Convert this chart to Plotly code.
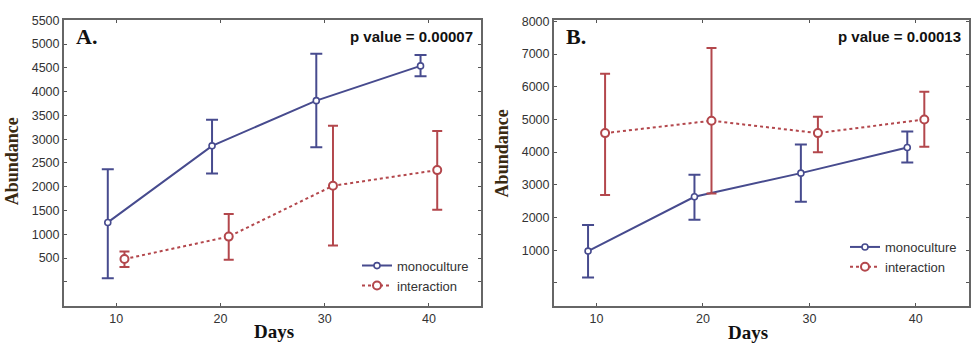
import plotly.graph_objects as go

# ---- data ----
days = [10, 20, 30, 40]

a_mono = [1250, 2860, 3810, 4540]
a_mono_hi = [2370, 3410, 4795, 4768]
a_mono_lo = [75, 2280, 2830, 4322]
a_int = [480, 952, 2020, 2350]
a_int_hi = [637, 1425, 3282, 3171]
a_int_lo = [315, 467, 767, 1515]

b_mono = [970, 2634, 3356, 4139]
b_mono_hi = [1770, 3305, 4229, 4629]
b_mono_lo = [166, 1933, 2484, 3678]
b_int = [4581, 4960, 4581, 5000]
b_int_hi = [6396, 7188, 5080, 5845]
b_int_lo = [2685, 2734, 3997, 4160]

a_yticks = [0, 500, 1000, 1500, 2000, 2500, 3000, 3500, 4000, 4500, 5000, 5500]
a_ytext = ["", "500", "1000", "1500", "2000", "2500", "3000", "3500", "4000", "4500", "5000", "5500"]
b_yticks = [0, 1000, 2000, 3000, 4000, 5000, 6000, 7000, 8000]
b_ytext = ["", "1000", "2000", "3000", "4000", "5000", "6000", "7000", "8000"]
x_ticks = [10, 20, 30, 40]

series_names = ["monoculture", "interaction"]
p_texts = ["p value = 0.00007", "p value = 0.00013"]
panel_labels = ["A.", "B."]
x_title = "Days"
y_title = "Abundance"

# ---- styles ----
BLUE = "#474b8e"
RED = "#b3474c"
DODGE = 0.8

fig = go.Figure()


def add_series(xa, ya, vals, hi, lo, color, name, dash, msize, capw, off, legend, lw):
    fig.add_trace(go.Scatter(
        x=[d + off for d in days], y=vals, name=name, mode="lines+markers",
        xaxis=xa, yaxis=ya, legend=legend,
        line=dict(color=color, width=lw, dash=dash),
        marker=dict(symbol="circle", size=msize, color="white",
                    line=dict(color=color, width=1.6 if name == "monoculture" else 2)),
        error_y=dict(type="data", symmetric=False,
                     array=[h - v for h, v in zip(hi, vals)],
                     arrayminus=[v - l for v, l in zip(vals, lo)],
                     color=color, thickness=2, width=capw),
    ))


add_series("x", "y", a_mono, a_mono_hi, a_mono_lo, BLUE, series_names[0], "solid", 6, 6, -DODGE, "legend", 2)
add_series("x", "y", a_int, a_int_hi, a_int_lo, RED, series_names[1], "dot", 8, 5, DODGE, "legend", 2)
add_series("x2", "y2", b_mono, b_mono_hi, b_mono_lo, BLUE, series_names[0], "solid", 6, 6, -DODGE, "legend2", 2)
add_series("x2", "y2", b_int, b_int_hi, b_int_lo, RED, series_names[1], "dot", 8, 5, DODGE, "legend2", 2)

W, H = 974, 344
axis_common = dict(showline=True, linecolor="#666666", linewidth=2, mirror="ticks",
                   ticks="inside", ticklen=3, tickcolor="#555555", showgrid=False,
                   zeroline=False,
                   tickfont=dict(family="Liberation Sans, Arial", size=12.5, color="#333333"))
title_font_y = dict(family="Liberation Serif, Times New Roman", size=18, color="#3a2a12")
title_font_x = dict(family="Liberation Serif, Times New Roman", size=19, color="#111111")

fig.update_layout(
    width=W, height=H, margin=dict(l=0, r=0, t=0, b=0),
    paper_bgcolor="white", plot_bgcolor="white",
    xaxis=dict(domain=[64 / W, 481 / W], range=[5, 45], tickvals=x_ticks, anchor="y", **axis_common),
    yaxis=dict(domain=[1 - 305 / H, 1 - 14 / H], range=[-500, 5510], tickvals=a_yticks,
               ticktext=a_ytext, anchor="x", **axis_common),
    xaxis2=dict(domain=[554 / W, 969 / W], range=[6, 45], tickvals=x_ticks, anchor="y2", **axis_common),
    yaxis2=dict(domain=[1 - 305 / H, 1 - 14 / H], range=[-700, 8050], tickvals=b_yticks,
                ticktext=b_ytext, anchor="x2", **axis_common),
    legend=dict(x=357 / W, y=1 - 249 / H, xanchor="left", yanchor="top",
                bgcolor="rgba(0,0,0,0)", tracegroupgap=0, itemwidth=30,
                font=dict(family="Liberation Sans, Arial", size=13, color="#333333")),
    legend2=dict(x=845 / W, y=1 - 230 / H, xanchor="left", yanchor="top",
                 bgcolor="rgba(0,0,0,0)", tracegroupgap=0, itemwidth=30,
                 font=dict(family="Liberation Sans, Arial", size=13, color="#333333")),
    showlegend=True,
)

# axis titles (placed in paper pixels)
for xt, yt in [(274, 331), (748, 332)]:
    fig.add_annotation(text="<b>" + x_title + "</b>", xref="paper", yref="paper",
                       x=xt / W, y=1 - yt / H, xanchor="center", yanchor="middle",
                       showarrow=False, font=title_font_x)
for xt, yt in [(12, 158), (502, 150)]:
    fig.add_annotation(text="<b>" + y_title + "</b>", xref="paper", yref="paper",
                       x=xt / W, y=1 - yt / H, xanchor="center", yanchor="middle",
                       textangle=-90, showarrow=False, font=title_font_y)

for i, (xr, yr) in enumerate([("x domain", "y domain"), ("x2 domain", "y2 domain")]):
    fig.add_annotation(text="<b>" + panel_labels[i] + "</b>", xref=xr, yref=yr,
                       x=0.025, y=0.94, xanchor="left", yanchor="middle", showarrow=False,
                       font=dict(family="Liberation Serif, Times New Roman", size=22, color="#111111"))
    fig.add_annotation(text="<b>" + p_texts[i] + "</b>", xref=xr, yref=yr,
                       x=0.985, y=0.94, xanchor="right", yanchor="middle", showarrow=False,
                       font=dict(family="Liberation Sans, Arial", size=15, color="#111111"))

fig.write_html("out.html", config={"displayModeBar": False},
               post_script="document.body.style.margin='0';document.body.style.padding='0';")
